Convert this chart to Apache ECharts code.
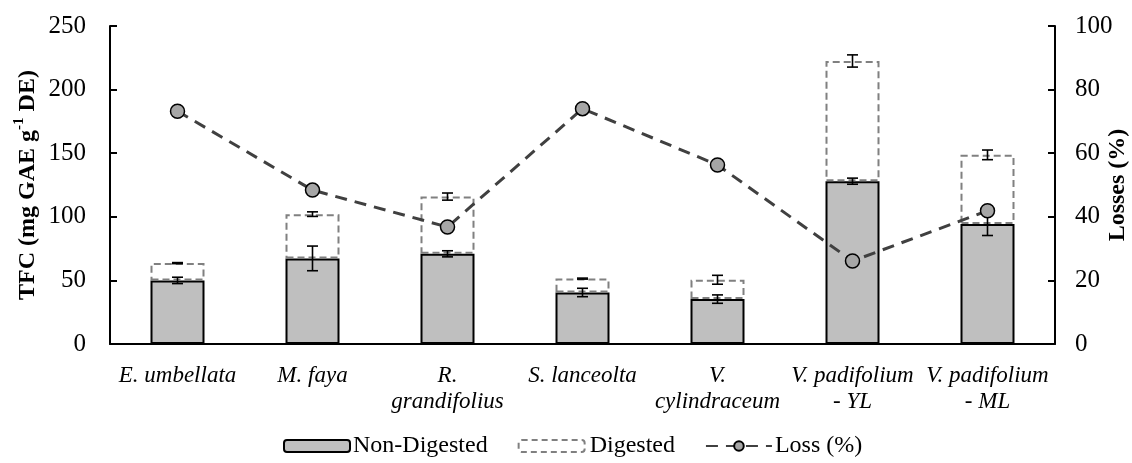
<!DOCTYPE html>
<html>
<head>
<meta charset="utf-8">
<script src="https://cdn.jsdelivr.net/npm/echarts@6/dist/echarts.min.js"></script>
<style>
  html, body { margin: 0; padding: 0; background: #ffffff; }
  #chart { width: 1132px; height: 463px; }
</style>
</head>
<body>
<div id="chart"></div>
<script>
// Species (two-line labels where the name wraps)
const categories = [
  'E. umbellata',
  'M. faya',
  'R.\ngrandifolius',
  'S. lanceolta',
  'V.\ncylindraceum',
  'V. padifolium\n- YL',
  'V. padifolium\n- ML'
];

// TFC of non-digested extracts (mg GAE g-1 DE) and SD
const nonDigested    = [50.0, 67.3, 70.9, 40.5, 35.3, 128.0, 94.3];
const nonDigestedErr = [2.5, 9.7, 2.4, 3.3, 3.3, 2.4, 9.0];

// Digested increment stacked on top of the non-digested bar, and SD of the total
const digested    = [13.6, 34.8, 45.0, 10.9, 15.2, 94.5, 54.4];
const digestedErr = [0.4, 1.8, 2.8, 0.4, 3.5, 4.8, 3.8];

// Losses (%) on the secondary axis
const loss = [73.2, 48.4, 36.8, 74.0, 56.3, 26.1, 41.9];

const leftTicks  = { min: 0, max: 250, interval: 50 };
const rightTicks = { min: 0, max: 100, interval: 20 };

const FONT = '"Liberation Serif", "Times New Roman", serif';

// error bar glyph: vertical whisker with two caps
function errorBar(params, api) {
  const x = api.value(0), y = api.value(1), e = api.value(2);
  const hi = api.coord([x, y + e]);
  const lo = api.coord([x, y - e]);
  const cap = 5.5;
  const style = { stroke: '#000000', lineWidth: 1.6 };
  return {
    type: 'group',
    children: [
      { type: 'line', shape: { x1: hi[0], y1: hi[1], x2: lo[0], y2: lo[1] }, style },
      { type: 'line', shape: { x1: hi[0] - cap, y1: hi[1], x2: hi[0] + cap, y2: hi[1] }, style },
      { type: 'line', shape: { x1: lo[0] - cap, y1: lo[1], x2: lo[0] + cap, y2: lo[1] }, style }
    ]
  };
}

const ndErrData = nonDigested.map((v, i) => [i, v, nonDigestedErr[i]]);
const dErrData  = nonDigested.map((v, i) => [i, v + digested[i], digestedErr[i]]);

const chart = echarts.init(document.getElementById('chart'), null, { renderer: 'canvas' });

chart.setOption({
  animation: false,
  backgroundColor: '#ffffff',
  textStyle: { fontFamily: FONT, color: '#000000' },
  grid: { left: 110, right: 77, top: 26, bottom: 119, containLabel: false, outerBoundsMode: 'none' },
  legend: {
    data: [
      { name: 'Non-Digested', textStyle: { padding: [0, 8, 0, -2] } },
      {
        name: 'Digested',
        itemStyle: { color: 'rgba(255,255,255,0)', borderColor: '#808080', borderWidth: 2, borderType: [6, 4] },
        textStyle: { padding: [0, -4, 0, 0] }
      },
      { name: 'Loss (%)' }
    ],
    left: 278,
    bottom: 0,
    itemWidth: 66,
    itemHeight: 12,
    itemGap: 30,
    textStyle: { fontFamily: FONT, fontSize: 24, color: '#000000', padding: [0, 0, 0, -2] }
  },
  xAxis: {
    type: 'category',
    data: categories,
    axisLine: { show: true, lineStyle: { color: '#000000', width: 2 } },
    axisTick: { show: false },
    axisLabel: {
      fontFamily: FONT,
      fontStyle: 'italic',
      fontSize: 23,
      lineHeight: 26,
      color: '#000000',
      margin: 19,
      interval: 0
    }
  },
  yAxis: [
    {
      type: 'value',
      min: leftTicks.min,
      max: leftTicks.max,
      interval: leftTicks.interval,
      position: 'left',
      splitLine: { show: false },
      axisLine: { show: true, lineStyle: { color: '#000000', width: 2 } },
      axisTick: { show: true, inside: true, length: 7, lineStyle: { color: '#000000', width: 2 } },
      axisLabel: { fontFamily: FONT, fontSize: 25, color: '#000000', margin: 24 },
      name: '{b|TFC (mg GAE g}{s|-1}{b| DE)}',
      nameLocation: 'middle',
      nameGap: 70,
      nameRotate: 90,
      nameMoveOverlap: false,
      nameTextStyle: {
        rich: {
          b: { fontFamily: FONT, fontSize: 24, fontWeight: 'bold', color: '#000000', lineHeight: 28, verticalAlign: 'bottom' },
          s: { fontFamily: FONT, fontSize: 15, fontWeight: 'bold', color: '#000000', lineHeight: 28, verticalAlign: 'top' }
        }
      }
    },
    {
      type: 'value',
      min: rightTicks.min,
      max: rightTicks.max,
      interval: rightTicks.interval,
      position: 'right',
      splitLine: { show: false },
      axisLine: { show: true, lineStyle: { color: '#000000', width: 2 } },
      axisTick: { show: true, inside: true, length: 7, lineStyle: { color: '#000000', width: 2 } },
      axisLabel: { fontFamily: FONT, fontSize: 25, color: '#000000', margin: 20 },
      name: 'Losses (%)',
      nameLocation: 'middle',
      nameGap: 51,
      nameRotate: 90,
      nameMoveOverlap: false,
      nameTextStyle: { fontFamily: FONT, fontSize: 24, fontWeight: 'bold', color: '#000000' }
    }
  ],
  series: [
    {
      name: 'Non-Digested',
      type: 'bar',
      stack: 'tfc',
      barWidth: 54,
      data: nonDigested,
      itemStyle: { color: '#bfbfbf', borderColor: '#000000', borderWidth: 2 },
      z: 2
    },
    {
      name: 'Digested',
      type: 'bar',
      stack: 'tfc',
      barWidth: 54,
      data: digested,
      itemStyle: {
        color: 'rgba(255,255,255,0)',
        borderColor: '#808080',
        borderWidth: 2,
        borderType: [7, 4]
      },
      z: 3
    },
    {
      type: 'custom',
      renderItem: errorBar,
      data: ndErrData,
      encode: { x: 0, y: 1 },
      z: 4
    },
    {
      type: 'custom',
      renderItem: errorBar,
      data: dErrData,
      encode: { x: 0, y: 1 },
      z: 4
    },
    {
      name: 'Loss (%)',
      type: 'line',
      yAxisIndex: 1,
      data: loss,
      symbol: 'circle',
      symbolSize: 14,
      lineStyle: { color: '#404040', width: 3, type: [12, 8] },
      itemStyle: { color: '#a6a6a6', borderColor: '#000000', borderWidth: 1.5 },
      z: 5
    }
  ]
});
</script>
</body>
</html>
